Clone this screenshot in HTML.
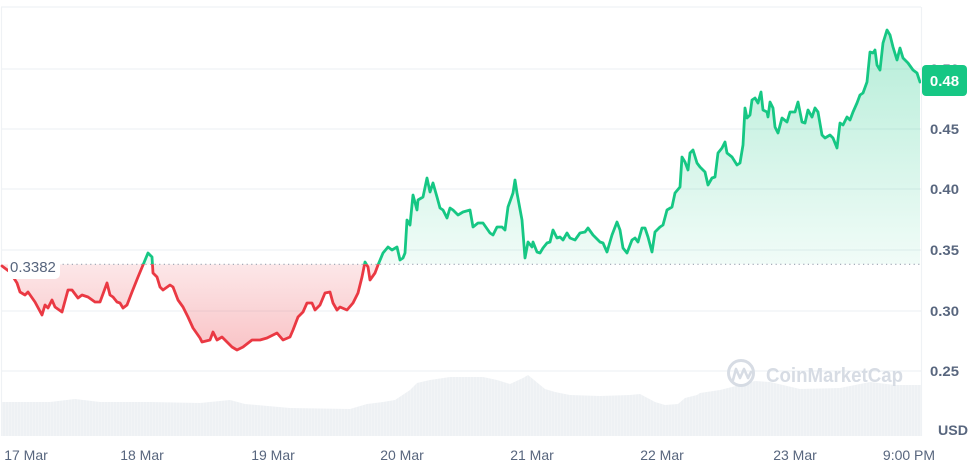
<!DOCTYPE html>
<html>
<head>
<meta charset="utf-8">
<style>
html,body{margin:0;padding:0;background:#fff;}
body{width:972px;height:463px;overflow:hidden;font-family:"Liberation Sans",sans-serif;}
svg{display:block;}
</style>
</head>
<body>
<svg width="972" height="463" viewBox="0 0 972 463" xmlns="http://www.w3.org/2000/svg">
<defs>
<linearGradient id="gg" x1="0" y1="30" x2="0" y2="264" gradientUnits="userSpaceOnUse">
<stop offset="0" stop-color="#16c784" stop-opacity="0.32"/>
<stop offset="1" stop-color="#16c784" stop-opacity="0.06"/>
</linearGradient>
<linearGradient id="rg" x1="0" y1="264" x2="0" y2="350" gradientUnits="userSpaceOnUse">
<stop offset="0" stop-color="#ea3943" stop-opacity="0.12"/>
<stop offset="1" stop-color="#ea3943" stop-opacity="0.30"/>
</linearGradient>
<clipPath id="above"><rect x="0" y="0" width="921" height="264.3"/></clipPath>
<clipPath id="below"><rect x="0" y="264.3" width="921" height="200"/></clipPath>
<pattern id="vb" width="3" height="10" patternUnits="userSpaceOnUse">
<rect x="0" y="0" width="3" height="10" fill="#eef1f4"/>
<rect x="2.4" y="0" width="0.6" height="10" fill="#f4f6f8"/>
</pattern>
</defs>

<g stroke="#eff2f5" stroke-width="1.2" fill="none">
<line x1="1" y1="7" x2="921" y2="7"/>
<line x1="1.5" y1="7" x2="1.5" y2="436"/>
<line x1="921.5" y1="7" x2="921.5" y2="436"/>
<line x1="1" y1="69" x2="921" y2="69"/>
<line x1="1" y1="129" x2="921" y2="129"/>
<line x1="1" y1="189" x2="921" y2="189"/>
<line x1="1" y1="250" x2="921" y2="250"/>
<line x1="1" y1="311" x2="921" y2="311"/>
<line x1="1" y1="371" x2="921" y2="371"/>
</g>

<path fill="url(#vb)" d="M2,402 L50,402 L75,399 L100,402 L150,402 L200,403 L230,400 L245,404 L290,408 L350,409 L367,404 L383,402 L395,400 L410,390 L417,383 L430,380 L450,377 L483,377 L497,380 L510,384 L523,378 L528,375 L545,389 L555,392 L570,395 L600,396 L630,395 L640,394 L655,402 L665,405 L678,404 L685,398 L697,395 L700,393 L720,390 L740,385 L755,381 L770,382 L800,389 L840,388 L870,382 L895,385 L921,385 L921,436 L2,436 Z"/>

<g opacity="0.9">
<circle cx="741" cy="373" r="12.5" fill="none" stroke="#d3d9e2" stroke-width="3"/>
<path d="M733,380 L736,369 L740,378 L744,369 L748,378 L751,372" fill="none" stroke="#d3d9e2" stroke-width="2.6" stroke-linejoin="round" stroke-linecap="round"/>
<text x="766" y="382" font-size="20" font-weight="bold" fill="#d3d9e2" textLength="137" lengthAdjust="spacingAndGlyphs" font-family="Liberation Sans, sans-serif">CoinMarketCap</text>
</g>

<path clip-path="url(#above)" fill="url(#gg)" d="M2,264.3 L2,266 L10,272 L17,283 L20,292 L25,295 L28,292 L35,302 L42,315 L45,305 L48,308 L52,300 L55,307 L62,312 L68,290 L72,290 L78,298 L82,295 L88,297 L95,302 L100,302 L107,283 L110,295 L113,297 L117,302 L120,303 L123,308 L127,305 L132,292 L138,277 L143,265 L148,253 L152,257 L153,273 L157,277 L160,287 L163,290 L170,285 L173,287 L178,300 L183,307 L188,317 L193,328 L200,338 L202,342 L210,340 L213,332 L217,340 L222,337 L227,342 L232,347 L237,350 L243,347 L252,340 L260,340 L267,338 L277,333 L283,340 L290,337 L293,330 L298,317 L303,312 L307,303 L312,303 L315,310 L320,305 L325,293 L330,292 L333,303 L337,310 L340,307 L347,310 L353,303 L358,293 L362,277 L365,262 L368,267 L370,280 L375,273 L378,265 L383,253 L388,247 L392,250 L397,247 L400,260 L403,258 L405,253 L407,220 L410,225 L413,195 L417,210 L418,200 L423,197 L427,178 L430,192 L433,183 L437,197 L440,208 L443,210 L447,218 L450,208 L453,210 L458,215 L463,212 L470,210 L473,227 L478,223 L483,223 L490,233 L493,235 L497,227 L502,227 L505,230 L508,207 L513,193 L515,180 L517,193 L522,220 L525,258 L528,242 L532,247 L533,242 L537,252 L540,253 L543,248 L547,243 L550,242 L553,230 L557,238 L560,237 L563,240 L567,233 L570,238 L575,240 L580,233 L585,232 L588,228 L593,235 L600,242 L603,243 L607,252 L612,235 L617,222 L620,230 L623,248 L627,253 L632,240 L635,238 L638,242 L642,228 L645,228 L648,237 L652,252 L655,232 L660,227 L663,225 L667,210 L672,207 L675,193 L680,187 L682,157 L685,162 L688,170 L690,153 L693,150 L697,163 L700,167 L705,172 L708,185 L712,178 L715,177 L718,153 L722,148 L725,142 L727,153 L732,157 L737,165 L740,163 L743,145 L745,108 L747,118 L750,115 L752,100 L755,98 L758,103 L761,92 L763,110 L767,112 L768,117 L770,102 L773,108 L775,127 L778,133 L782,118 L787,122 L790,112 L795,112 L798,102 L802,122 L805,123 L808,110 L812,117 L815,108 L818,112 L822,135 L825,138 L830,135 L833,138 L837,148 L840,123 L843,125 L847,117 L850,120 L853,112 L857,103 L860,95 L863,93 L867,82 L870,52 L873,53 L875,50 L877,65 L880,70 L883,43 L887,30 L890,35 L893,47 L897,60 L900,48 L903,58 L908,63 L913,70 L917,73 L920,82 L920,264.3 Z"/>
<path clip-path="url(#below)" fill="url(#rg)" d="M2,264.3 L2,266 L10,272 L17,283 L20,292 L25,295 L28,292 L35,302 L42,315 L45,305 L48,308 L52,300 L55,307 L62,312 L68,290 L72,290 L78,298 L82,295 L88,297 L95,302 L100,302 L107,283 L110,295 L113,297 L117,302 L120,303 L123,308 L127,305 L132,292 L138,277 L143,265 L148,253 L152,257 L153,273 L157,277 L160,287 L163,290 L170,285 L173,287 L178,300 L183,307 L188,317 L193,328 L200,338 L202,342 L210,340 L213,332 L217,340 L222,337 L227,342 L232,347 L237,350 L243,347 L252,340 L260,340 L267,338 L277,333 L283,340 L290,337 L293,330 L298,317 L303,312 L307,303 L312,303 L315,310 L320,305 L325,293 L330,292 L333,303 L337,310 L340,307 L347,310 L353,303 L358,293 L362,277 L365,262 L368,267 L370,280 L375,273 L378,265 L383,253 L388,247 L388,264.3 Z"/>

<line x1="58" y1="264.3" x2="921" y2="264.3" stroke="#9aa3b1" stroke-width="1.2" stroke-dasharray="1.2 3.4"/>

<g fill="none" stroke-width="2.8" stroke-linejoin="round" stroke-linecap="round">
<path clip-path="url(#above)" stroke="#16c784" d="M2,266 L10,272 L17,283 L20,292 L25,295 L28,292 L35,302 L42,315 L45,305 L48,308 L52,300 L55,307 L62,312 L68,290 L72,290 L78,298 L82,295 L88,297 L95,302 L100,302 L107,283 L110,295 L113,297 L117,302 L120,303 L123,308 L127,305 L132,292 L138,277 L143,265 L148,253 L152,257 L153,273 L157,277 L160,287 L163,290 L170,285 L173,287 L178,300 L183,307 L188,317 L193,328 L200,338 L202,342 L210,340 L213,332 L217,340 L222,337 L227,342 L232,347 L237,350 L243,347 L252,340 L260,340 L267,338 L277,333 L283,340 L290,337 L293,330 L298,317 L303,312 L307,303 L312,303 L315,310 L320,305 L325,293 L330,292 L333,303 L337,310 L340,307 L347,310 L353,303 L358,293 L362,277 L365,262 L368,267 L370,280 L375,273 L378,265 L383,253 L388,247 L392,250 L397,247 L400,260 L403,258 L405,253 L407,220 L410,225 L413,195 L417,210 L418,200 L423,197 L427,178 L430,192 L433,183 L437,197 L440,208 L443,210 L447,218 L450,208 L453,210 L458,215 L463,212 L470,210 L473,227 L478,223 L483,223 L490,233 L493,235 L497,227 L502,227 L505,230 L508,207 L513,193 L515,180 L517,193 L522,220 L525,258 L528,242 L532,247 L533,242 L537,252 L540,253 L543,248 L547,243 L550,242 L553,230 L557,238 L560,237 L563,240 L567,233 L570,238 L575,240 L580,233 L585,232 L588,228 L593,235 L600,242 L603,243 L607,252 L612,235 L617,222 L620,230 L623,248 L627,253 L632,240 L635,238 L638,242 L642,228 L645,228 L648,237 L652,252 L655,232 L660,227 L663,225 L667,210 L672,207 L675,193 L680,187 L682,157 L685,162 L688,170 L690,153 L693,150 L697,163 L700,167 L705,172 L708,185 L712,178 L715,177 L718,153 L722,148 L725,142 L727,153 L732,157 L737,165 L740,163 L743,145 L745,108 L747,118 L750,115 L752,100 L755,98 L758,103 L761,92 L763,110 L767,112 L768,117 L770,102 L773,108 L775,127 L778,133 L782,118 L787,122 L790,112 L795,112 L798,102 L802,122 L805,123 L808,110 L812,117 L815,108 L818,112 L822,135 L825,138 L830,135 L833,138 L837,148 L840,123 L843,125 L847,117 L850,120 L853,112 L857,103 L860,95 L863,93 L867,82 L870,52 L873,53 L875,50 L877,65 L880,70 L883,43 L887,30 L890,35 L893,47 L897,60 L900,48 L903,58 L908,63 L913,70 L917,73 L920,82"/>
<path clip-path="url(#below)" stroke="#ea3943" d="M2,266 L10,272 L17,283 L20,292 L25,295 L28,292 L35,302 L42,315 L45,305 L48,308 L52,300 L55,307 L62,312 L68,290 L72,290 L78,298 L82,295 L88,297 L95,302 L100,302 L107,283 L110,295 L113,297 L117,302 L120,303 L123,308 L127,305 L132,292 L138,277 L143,265 L148,253 L152,257 L153,273 L157,277 L160,287 L163,290 L170,285 L173,287 L178,300 L183,307 L188,317 L193,328 L200,338 L202,342 L210,340 L213,332 L217,340 L222,337 L227,342 L232,347 L237,350 L243,347 L252,340 L260,340 L267,338 L277,333 L283,340 L290,337 L293,330 L298,317 L303,312 L307,303 L312,303 L315,310 L320,305 L325,293 L330,292 L333,303 L337,310 L340,307 L347,310 L353,303 L358,293 L362,277 L365,262 L368,267 L370,280 L375,273 L378,265 L383,253 L388,247"/>
</g>

<rect x="8" y="253" width="52" height="26" rx="5" fill="#ffffff"/>
<text x="10" y="272" font-size="15" fill="#58667e" font-family="Liberation Sans, sans-serif">0.3382</text>

<g font-size="14" font-weight="bold" fill="#58667e" font-family="Liberation Sans, sans-serif">
<text x="930" y="74" textLength="29" lengthAdjust="spacingAndGlyphs">0.50</text>
<text x="930" y="134" textLength="29" lengthAdjust="spacingAndGlyphs">0.45</text>
<text x="930" y="194" textLength="29" lengthAdjust="spacingAndGlyphs">0.40</text>
<text x="930" y="255" textLength="29" lengthAdjust="spacingAndGlyphs">0.35</text>
<text x="930" y="316" textLength="29" lengthAdjust="spacingAndGlyphs">0.30</text>
<text x="930" y="376" textLength="29" lengthAdjust="spacingAndGlyphs">0.25</text>
<text x="938" y="435" textLength="30" lengthAdjust="spacingAndGlyphs">USD</text>
</g>

<rect x="922" y="65" width="45" height="31" rx="4" fill="#16c784"/>
<text x="944.5" y="86" font-size="15" font-weight="bold" fill="#ffffff" text-anchor="middle" font-family="Liberation Sans, sans-serif">0.48</text>

<g font-size="14" fill="#58667e" font-family="Liberation Sans, sans-serif" text-anchor="middle">
<text x="26" y="460">17 Mar</text>
<text x="142" y="460">18 Mar</text>
<text x="273" y="460">19 Mar</text>
<text x="402" y="460">20 Mar</text>
<text x="532" y="460">21 Mar</text>
<text x="662" y="460">22 Mar</text>
<text x="795" y="460">23 Mar</text>
<text x="909" y="460">9:00 PM</text>
</g>
</svg>
</body>
</html>
